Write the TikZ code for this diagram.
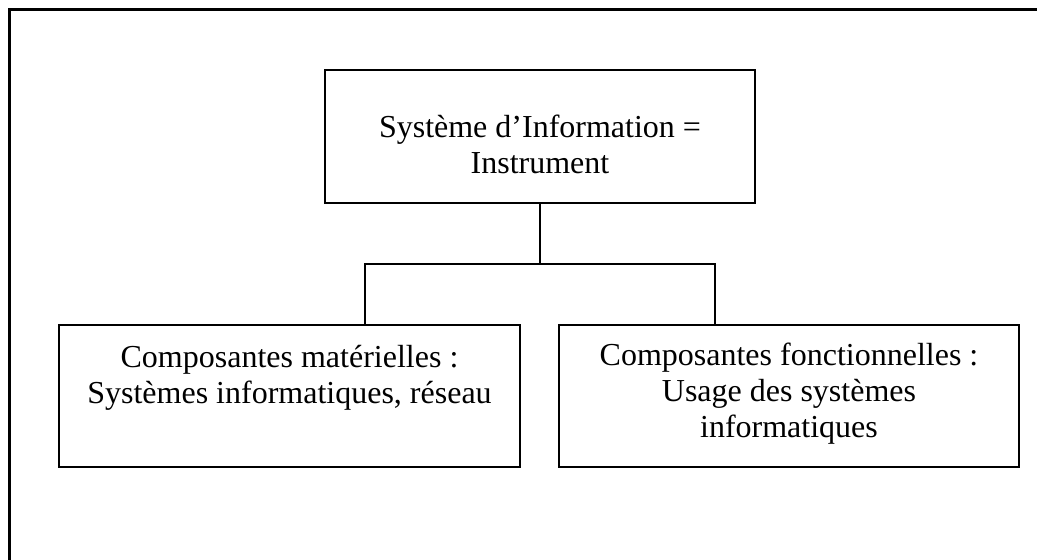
\documentclass[tikz,border=0pt]{standalone}
\usepackage{fontspec}
\setmainfont{Liberation Serif}
\usetikzlibrary{positioning}
\tikzstyle{boite}=[draw, line width=1.5pt, inner sep=0pt, font=\fontsize{32}{36}\selectfont]
\tikzstyle{trait}=[line width=1.5pt]
% texte centre, aligne en haut de la boite
\newcommand{\dansboite}[4]{\parbox[c][#1][t]{#2}{\centering\vspace{#3}#4}}

\begin{document}
\begin{tikzpicture}[x=1pt,y=-1pt]
  \useasboundingbox (0,0) rectangle (1037,560);
  % cadre
  \draw[line width=3pt] (9.5,560) -- (9.5,9.5) -- (1037,9.5);

  \node [boite] (si) at (540,136.5) {\dansboite{133pt}{430pt}{45pt}{Système d’Information =\\Instrument}};
  \node [boite] (mat) at (289.5,396) {\dansboite{142pt}{461pt}{20pt}{Composantes matérielles :\\Systèmes informatiques, réseau}};
  \node [boite] (fonc) at (789,396) {\dansboite{142pt}{460pt}{18pt}{Composantes fonctionnelles :\\Usage des systèmes\\informatiques}};

  \coordinate (j) at (540,264);
  \coordinate (g) at (mat.north -| 365,0);
  \coordinate (d) at (fonc.north -| 715,0);
  \draw[trait] (si.south) -- (j);
  \draw[trait] (g) |- (j) -| (d);
\end{tikzpicture}
\end{document}
